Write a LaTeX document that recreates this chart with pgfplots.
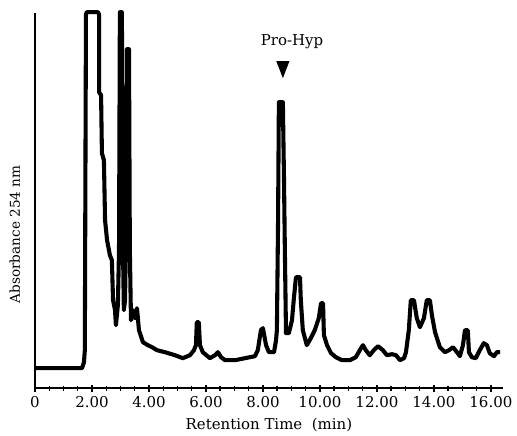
\documentclass[border=0pt]{standalone}
\usepackage{fontspec}
\setmainfont{DejaVu Serif}
\usepackage{pgfplots}
\usepackage{pgfplotstable}
\pgfplotsset{compat=1.18}

% retention time (min) vs absorbance (arbitrary units)
\pgfplotstableread{
t A
0.00 20
1.58 20
1.65 20
1.72 26
1.75 38
1.79 374
1.82 376
2.21 376
2.25 374
2.25 296
2.32 293
2.35 235
2.42 228
2.46 168
2.53 148
2.63 133
2.70 128
2.74 88
2.81 78
2.84 63
2.91 83
2.95 138
2.98 376
3.05 376
3.09 138
3.12 78
3.16 88
3.19 138
3.23 339
3.30 339
3.33 138
3.37 68
3.44 78
3.51 70
3.58 80
3.65 58
3.79 46
3.96 43
4.11 41
4.28 38
4.56 36
4.91 33
5.19 30
5.44 33
5.58 38
5.65 43
5.68 66
5.75 66
5.79 43
5.89 36
6.14 30
6.32 33
6.42 36
6.53 31
6.67 28
7.02 28
7.37 30
7.72 32
7.82 38
7.93 58
8.00 60
8.11 43
8.21 36
8.39 36
8.46 48
8.49 58
8.53 163
8.56 286
8.70 286
8.74 208
8.77 138
8.81 55
8.91 55
9.02 68
9.09 91
9.16 111
9.30 111
9.33 88
9.40 58
9.54 43
9.68 50
9.82 58
9.96 70
10.04 85
10.11 85
10.14 53
10.25 43
10.39 35
10.56 31
10.77 28
11.05 28
11.26 31
11.40 38
11.51 43
11.61 38
11.75 33
11.89 38
12.04 42
12.21 38
12.35 33
12.53 34
12.67 33
12.81 28
12.95 30
13.02 36
13.12 58
13.19 88
13.30 88
13.40 70
13.51 61
13.65 70
13.75 88
13.86 88
13.93 73
14.04 56
14.21 41
14.39 36
14.53 38
14.67 41
14.81 36
14.91 32
15.02 43
15.09 58
15.19 58
15.23 36
15.33 31
15.47 30
15.61 38
15.75 45
15.86 43
15.96 35
16.11 32
16.21 36
16.32 36
}\chromdata

\begin{document}
\begin{tikzpicture}
\begin{axis}[
    scale only axis,
    width=344pt, height=275.7pt,
    xmin=0, xmax=16.42, ymin=0, ymax=375,
    axis x line=bottom, axis y line=left,
    axis line style={-, line width=1.5pt},
    xtick={0,2,4,6,8,10,12,14,16},
    xticklabels={0,2.00,4.00,6.00,8.00,10.00,12.00,14.00,16.00},
    minor x tick num=3,
    ytick=\empty,
    tick align=center,
    major tick length=5pt, minor tick length=3.5pt,
    every tick/.style={black, line width=1pt},
    tick label style={font=\fontsize{11}{13}\selectfont},
    xlabel={Retention Time\ \ (min)},
    ylabel={Absorbance 254 nm},
    xlabel style={font=\fontsize{11}{13}\selectfont, at={(axis description cs:0.5,-0.099)}, anchor=center},
    ylabel style={font=\fontsize{10}{12}\selectfont, at={(axis description cs:-0.043,0.41)}, anchor=center},
    clip=false,
]
\addplot[black, line width=3pt, line join=round] table {\chromdata};
\coordinate (o) at (rel axis cs:0,0);
\node[font=\fontsize{11}{13}\selectfont] at (axis cs:9.02,346) {Pro-Hyp};
\fill (axis cs:8.47,327) -- (axis cs:8.93,327) -- (axis cs:8.70,310) -- cycle;
\end{axis}
\pgfresetboundingbox
\path (o) ++(-25.7pt,-34.5pt) rectangle ++(380.1pt,319.9pt);
\end{tikzpicture}
\end{document}
